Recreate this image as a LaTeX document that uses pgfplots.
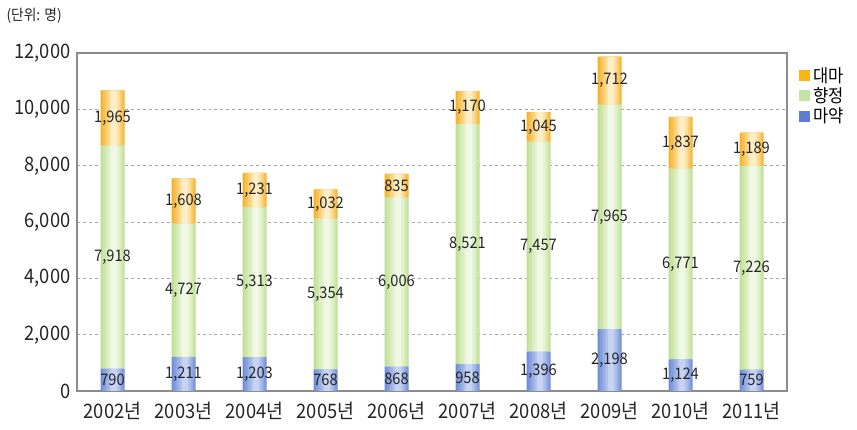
\documentclass[border=0pt]{standalone}
\usepackage{pgfplots}
\usepackage{pgfplotstable}
\pgfplotsset{compat=1.18}
\usepackage{fontspec}
\setmainfont{Noto Sans CJK KR}[FakeStretch=0.92]

% 마약 / 향정 / 대마, 2002-2011
\pgfplotstableread{
x  mayak hyang daema
0  790   7918  1965
1  1211  4727  1608
2  1203  5313  1231
3  768   5354  1032
4  868   6006  835
5  958   8521  1170
6  1396  7457  1045
7  2198  7965  1712
8  1124  6771  1837
9  759   7226  1189
}\drugs

\definecolor{o1}{HTML}{F6B12A}
\definecolor{o2}{HTML}{F8C04E}
\definecolor{o3}{HTML}{FAD077}
\definecolor{o4}{HTML}{FCE09F}
\definecolor{o5}{HTML}{FDEEC8}
\definecolor{g1}{HTML}{BEDF95}
\definecolor{g2}{HTML}{CCE6A8}
\definecolor{g3}{HTML}{D9EDBD}
\definecolor{g4}{HTML}{E5F3D1}
\definecolor{g5}{HTML}{F0F8E6}
\definecolor{b1}{HTML}{6E8DD6}
\definecolor{b2}{HTML}{849EDD}
\definecolor{b3}{HTML}{9AB0E5}
\definecolor{b4}{HTML}{B0C1EC}
\definecolor{b5}{HTML}{C6D3F3}
\definecolor{legO}{HTML}{FDB515}
\definecolor{legG}{HTML}{C5E3A5}
\definecolor{legB}{HTML}{5B7FCF}
\definecolor{axgray}{HTML}{8C8C8C}

\pgfplotsset{
  layer/.style={
    at={(0,0)}, anchor=south west,
    scale only axis, width=710bp, height=338bp,
    ybar stacked,
    xmin=-0.5, xmax=9.5, ymin=0, ymax=12000,
  },
  shade layer/.style={layer, hide axis},
}

\begin{document}
\begin{tikzpicture}
\path[use as bounding box] (-77bp,-39bp) rectangle (780bp,391bp);
% base layer: frame, grid, ticks, legend, darkest tone of the bars
\begin{axis}[
  layer, bar width=24bp,
  xtick={0,...,9},
  xticklabels={2002년,2003년,2004년,2005년,2006년,2007년,2008년,2009년,2010년,2011년},
  xtick pos=bottom,
  x tick style={draw=none},
  extra x ticks={0.5,1.5,...,8.5},
  extra x tick labels={},
  extra x tick style={major tick length=8bp, tick align=inside, tick style={draw=axgray, line width=0.6bp}},
  ytick={0,2000,...,12000},
  y tick style={draw=none},
  scaled y ticks=false,
  /pgf/number format/fixed,
  /pgf/number format/assume math mode=true,
  ymajorgrids,
  grid style={dashed, draw=gray!70, line width=0.6bp},
  axis line style={draw=axgray, line width=1.3bp},
  tick label style={text=black!85},
  yticklabel style={font=\fontsize{20}{23}\selectfont, xshift=-3bp},
  xticklabel style={font=\fontsize{20}{23}\selectfont, yshift=-8bp},
  legend style={at={(1.013,0.97)}, anchor=north west, draw=none,
    font=\fontsize{18}{21}\selectfont, row sep=0bp,
    /tikz/every odd column/.append style={column sep=1bp}},
  legend image code/.code={\fill[#1] (0pt,-5.5pt) rectangle (11pt,5.5pt);},
]
\addlegendimage{fill=legO, draw=none}
\addlegendentry{대마}
\addlegendimage{fill=legG, draw=none}
\addlegendentry{향정}
\addlegendimage{fill=legB, draw=none}
\addlegendentry{마약}
\addplot[draw=none, fill=b1] table[x=x, y=mayak] {\drugs};
\addplot[draw=none, fill=g1] table[x=x, y=hyang] {\drugs};
\addplot[draw=none, fill=o1] table[x=x, y=daema] {\drugs};
\end{axis}
% lighter strips, narrower each time, to imitate the horizontal gradient
\begin{axis}[shade layer, bar width=21bp, bar shift=0.5bp]
\addplot[draw=none, fill=b2] table[x=x, y=mayak] {\drugs};
\addplot[draw=none, fill=g2] table[x=x, y=hyang] {\drugs};
\addplot[draw=none, fill=o2] table[x=x, y=daema] {\drugs};
\end{axis}
\begin{axis}[shade layer, bar width=16bp, bar shift=1bp]
\addplot[draw=none, fill=b3] table[x=x, y=mayak] {\drugs};
\addplot[draw=none, fill=g3] table[x=x, y=hyang] {\drugs};
\addplot[draw=none, fill=o3] table[x=x, y=daema] {\drugs};
\end{axis}
\begin{axis}[shade layer, bar width=11bp, bar shift=1.5bp]
\addplot[draw=none, fill=b4] table[x=x, y=mayak] {\drugs};
\addplot[draw=none, fill=g4] table[x=x, y=hyang] {\drugs};
\addplot[draw=none, fill=o4] table[x=x, y=daema] {\drugs};
\end{axis}
% lightest strip and value labels
\begin{axis}[shade layer, bar width=6bp, bar shift=1.5bp,
  nodes near coords, point meta=rawy,
  /pgf/number format/assume math mode=true,
  every node near coord/.append style={text=black!85, xshift=-1.5bp,
    font=\fontsize{16}{18}\selectfont},
]
\addplot[draw=none, fill=b5] table[x=x, y=mayak] {\drugs};
\addplot[draw=none, fill=g5] table[x=x, y=hyang] {\drugs};
\addplot[draw=none, fill=o5] table[x=x, y=daema] {\drugs};
\end{axis}
\node[anchor=west, font=\fontsize{15}{18}\selectfont, text=black!85] at (-74bp,375bp) {(단위: 명)};
\end{tikzpicture}
\end{document}
